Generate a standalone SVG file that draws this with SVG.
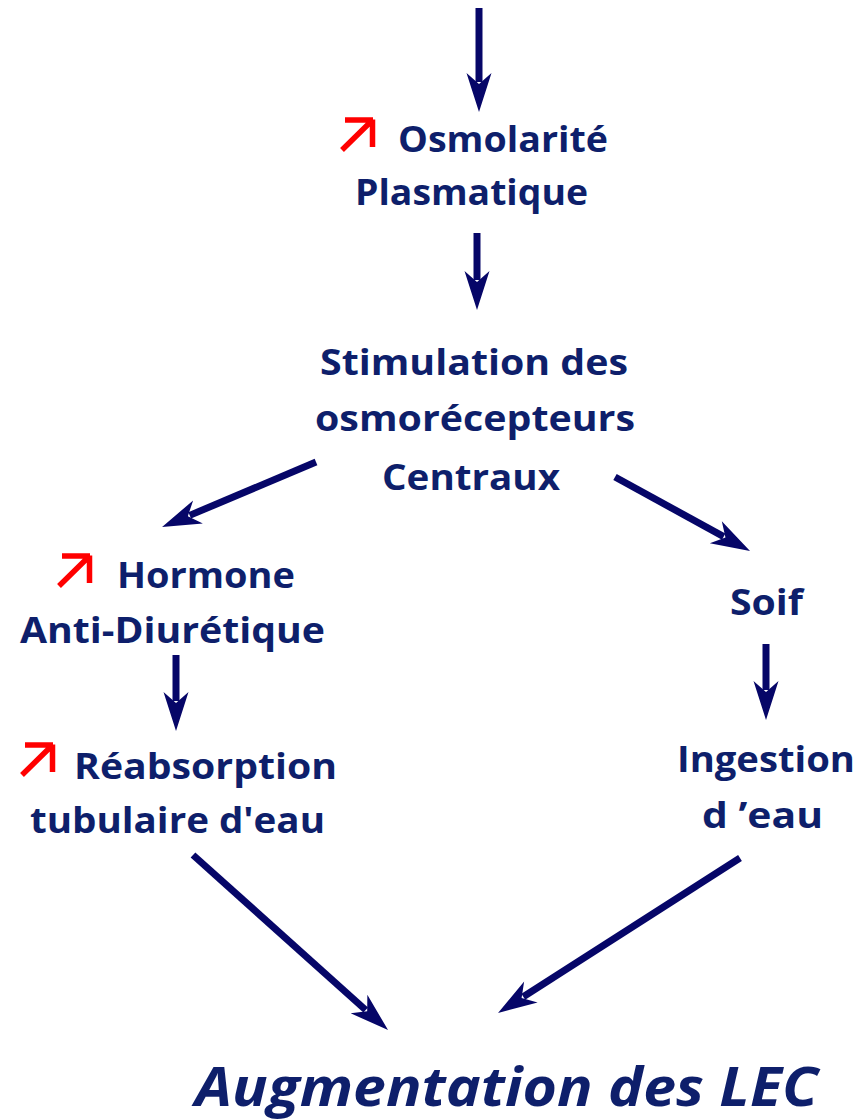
<svg xmlns="http://www.w3.org/2000/svg" width="866" height="1120" viewBox="0 0 866 1120">
  <style>
    .t { font-family: "Open Sans", "Liberation Sans", sans-serif; font-weight: 700; font-size: 36px; fill: #0e1f6b; }
    .big { font-size: 54px; font-style: italic; }
    .flow { stroke: #060668; stroke-width: 7; fill: none; marker-end: url(#head); }
    .up { stroke: #ff0000; stroke-width: 5.5; fill: none; }
  </style>
  <defs>
    <!-- swept-back arrowhead; the tip sits 30px beyond the end of the shaft -->
    <marker id="head" markerUnits="userSpaceOnUse" viewBox="-10 -14 42 28" refX="0" refY="0" markerWidth="42" markerHeight="28" orient="auto" overflow="visible">
      <path d="M30,0 L-9,-12.5 L2,0 L-9,12.5 Z" fill="#060668"/>
    </marker>
    <!-- red "increase" symbol -->
    <g id="increase">
      <path class="up" d="M5,3 H33 M32.5,2.5 V30 M2,33 L31,4.5"/>
    </g>
  </defs>

  <g id="connectors">
    <line class="flow" x1="479" y1="8" x2="479" y2="82"/>
    <line class="flow" x1="477" y1="233" x2="477" y2="280"/>
    <line class="flow" x1="316" y1="462" x2="189.7" y2="515.4"/>
    <line class="flow" x1="615" y1="477" x2="723.7" y2="536.6"/>
    <line class="flow" x1="176" y1="655" x2="176" y2="701"/>
    <line class="flow" x1="766" y1="644" x2="766" y2="690"/>
    <line class="flow" x1="193" y1="855" x2="365.7" y2="1010"/>
    <line class="flow" x1="740" y1="858" x2="523.3" y2="996.8"/>
  </g>

  <g id="osmolarite">
    <use href="#increase" x="340" y="117"/>
    <text class="t" x="398" y="152" textLength="210" lengthAdjust="spacingAndGlyphs">Osmolarité</text>
    <text class="t" x="355" y="205" textLength="233" lengthAdjust="spacingAndGlyphs">Plasmatique</text>
  </g>

  <g id="osmorecepteurs">
    <text class="t" x="320" y="375" textLength="308" lengthAdjust="spacingAndGlyphs">Stimulation des</text>
    <text class="t" x="315" y="431" textLength="320" lengthAdjust="spacingAndGlyphs">osmorécepteurs</text>
    <text class="t" x="382" y="490" textLength="178" lengthAdjust="spacingAndGlyphs">Centraux</text>
  </g>

  <g id="adh">
    <use href="#increase" x="57" y="553"/>
    <text class="t" x="117" y="588" textLength="178" lengthAdjust="spacingAndGlyphs">Hormone</text>
    <text class="t" x="20" y="643" textLength="305" lengthAdjust="spacingAndGlyphs">Anti-Diurétique</text>
  </g>

  <g id="reabsorption">
    <use href="#increase" x="20" y="742"/>
    <text class="t" x="74" y="779" textLength="263" lengthAdjust="spacingAndGlyphs">Réabsorption</text>
    <text class="t" x="30" y="833" textLength="295" lengthAdjust="spacingAndGlyphs">tubulaire d'eau</text>
  </g>

  <g id="soif">
    <text class="t" x="730" y="615" textLength="73" lengthAdjust="spacingAndGlyphs">Soif</text>
  </g>

  <g id="ingestion">
    <text class="t" x="677" y="772" textLength="178" lengthAdjust="spacingAndGlyphs">Ingestion</text>
    <text class="t" x="702" y="828" textLength="121" lengthAdjust="spacingAndGlyphs">d ’eau</text>
  </g>

  <g id="lec">
    <text class="t big" x="195" y="1106" textLength="623" lengthAdjust="spacingAndGlyphs">Augmentation des LEC</text>
  </g>
</svg>
